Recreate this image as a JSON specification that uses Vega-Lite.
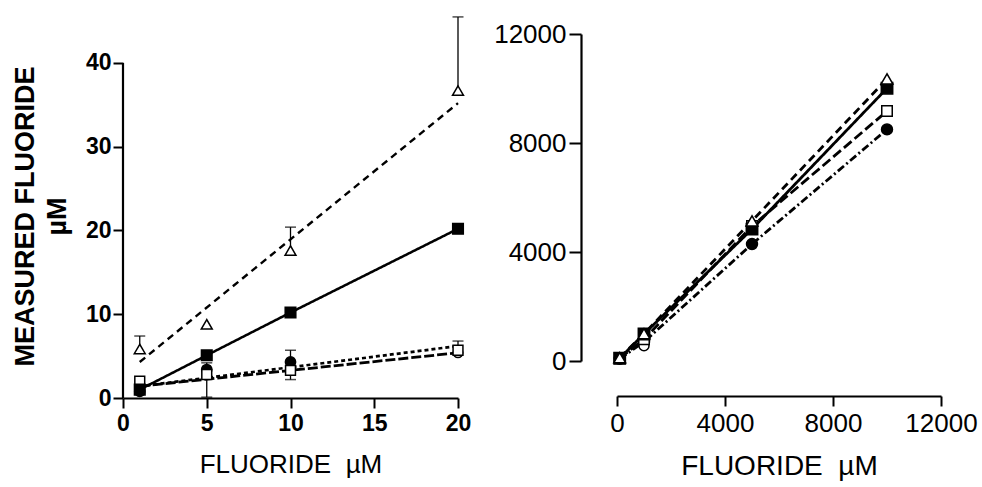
{
  "$schema": "https://vega.github.io/schema/vega-lite/v6.json",
  "background": "white",
  "padding": {"left": 11, "top": 16, "right": 5, "bottom": 5},
  "config": {
    "view": {"stroke": null},
    "font": "Liberation Sans",
    "axis": {"grid": false, "domainColor": "black", "tickColor": "black", "labelColor": "black", "titleColor": "black", "domainWidth": 2.2, "tickWidth": 2, "labelFlush": false, "format": "d"}
  },
  "datasets": {
    "lpts": [
      {"series": "T", "x": 1, "y": 5.85}, {"series": "T", "x": 5, "y": 8.8}, {"series": "T", "x": 10, "y": 17.6}, {"series": "T", "x": 20, "y": 36.7},
      {"series": "S", "x": 1, "y": 1.0}, {"series": "S", "x": 5, "y": 5.1}, {"series": "S", "x": 10, "y": 10.2}, {"series": "S", "x": 20, "y": 20.2},
      {"series": "C", "x": 1, "y": 0.8}, {"series": "C", "x": 5, "y": 3.4}, {"series": "C", "x": 10, "y": 4.3},
      {"series": "OS", "x": 1, "y": 2.0}, {"series": "OS", "x": 5, "y": 2.8}, {"series": "OS", "x": 10, "y": 3.3}, {"series": "OS", "x": 20, "y": 5.7},
      {"series": "OC", "x": 20, "y": 5.4}
    ],
    "lerr": [
      {"x": 1, "y": 5.85, "y2": 7.4}, {"x": 10, "y": 17.6, "y2": 20.4}, {"x": 20, "y": 36.7, "y2": 45.5},
      {"x": 10, "y": 4.3, "y2": 5.7}, {"x": 10, "y": 3.3, "y2": 2.2}, {"x": 5, "y": 3.4, "y2": 4.2},
      {"x": 5, "y": 2.8, "y2": 0.1}, {"x": 20, "y": 5.7, "y2": 6.8}
    ],
    "lfit": [
      {"series": "T", "x": 1, "y": 4.3}, {"series": "T", "x": 20, "y": 35.2},
      {"series": "S", "x": 1, "y": 1.0}, {"series": "S", "x": 5, "y": 5.1}, {"series": "S", "x": 10, "y": 10.2}, {"series": "S", "x": 20, "y": 20.2},
      {"series": "C", "x": 1, "y": 1.4}, {"series": "C", "x": 20, "y": 6.2},
      {"series": "OS", "x": 1, "y": 1.4}, {"series": "OS", "x": 20, "y": 5.4}
    ],
    "laxis": [{"x": 0, "y": 0, "y2": 40}],
    "rpts": [
      {"series": "C", "x": 100, "y": 80}, {"series": "C", "x": 1000, "y": 700}, {"series": "C", "x": 5000, "y": 4290}, {"series": "C", "x": 10000, "y": 8500},
      {"series": "OC", "x": 1000, "y": 560},
      {"series": "OS", "x": 100, "y": 100}, {"series": "OS", "x": 1000, "y": 800}, {"series": "OS", "x": 5000, "y": 4950}, {"series": "OS", "x": 10000, "y": 9170},
      {"series": "S", "x": 100, "y": 100}, {"series": "S", "x": 1000, "y": 990}, {"series": "S", "x": 5000, "y": 4840}, {"series": "S", "x": 10000, "y": 10010},
      {"series": "T", "x": 100, "y": 120}, {"series": "T", "x": 1000, "y": 1000}, {"series": "T", "x": 5000, "y": 5140}, {"series": "T", "x": 10000, "y": 10350}
    ]
  },
  "hconcat": [
    {
      "width": 335,
      "height": 364,
      "layer": [
        {
          "data": {"name": "laxis"},
          "mark": {"type": "rule", "color": "black", "strokeWidth": 2.2},
          "encoding": {
            "x": {"field": "x", "type": "quantitative", "scale": {"domain": [0, 20], "nice": false}, "axis": {"values": [0, 5, 10, 15, 20], "title": "FLUORIDE\u00a0\u00a0µM", "labelFontSize": 23, "labelFontWeight": "bold", "tickSize": 10, "labelPadding": 4, "titleFontSize": 26, "titleFontWeight": "normal", "titlePadding": 16}},
            "y": {"field": "y", "type": "quantitative", "scale": {"domain": [0, 43.46], "nice": false}, "axis": {"values": [0, 10, 20, 30, 40], "domain": false, "title": ["MEASURED FLUORIDE", "µM"], "labelFontSize": 23, "labelFontWeight": "bold", "tickSize": 10, "labelPadding": 2, "titleFontSize": 27, "titleFontWeight": "bold", "titlePadding": 14, "titleLineHeight": 32}},
            "y2": {"field": "y2"}
          }
        },
        {
          "data": {"name": "lfit"},
          "mark": {"type": "line", "color": "black", "clip": false},
          "encoding": {
            "x": {"field": "x", "type": "quantitative"},
            "y": {"field": "y", "type": "quantitative"},
            "detail": {"field": "series"},
            "strokeDash": {"field": "series", "type": "nominal", "scale": {"domain": ["T", "S", "C", "OS"], "range": [[7, 5], [1, 0], [4, 3], [10, 3]]}, "legend": null},
            "strokeWidth": {"field": "series", "type": "nominal", "scale": {"domain": ["T", "S", "C", "OS"], "range": [2.4, 2.8, 1.3, 1.3]}, "legend": null}
          }
        },
        {
          "data": {"name": "lerr"},
          "mark": {"type": "rule", "color": "black", "strokeWidth": 1.3, "clip": false},
          "encoding": {
            "x": {"field": "x", "type": "quantitative"},
            "y": {"field": "y", "type": "quantitative"},
            "y2": {"field": "y2"}
          }
        },
        {
          "data": {"name": "lerr"},
          "mark": {"type": "tick", "orient": "horizontal", "color": "black", "size": 11, "thickness": 1.5, "clip": false},
          "encoding": {
            "x": {"field": "x", "type": "quantitative"},
            "y": {"field": "y2", "type": "quantitative"}
          }
        },
        {
          "data": {"name": "lpts"},
          "mark": {"type": "point", "filled": true, "stroke": "black", "strokeWidth": 1.5, "opacity": 1, "clip": false},
          "encoding": {
            "x": {"field": "x", "type": "quantitative"},
            "y": {"field": "y", "type": "quantitative"},
            "shape": {"field": "series", "type": "nominal", "scale": {"domain": ["T", "S", "C", "OS", "OC"], "range": ["triangle-up", "square", "circle", "square", "circle"]}, "legend": null},
            "fill": {"field": "series", "type": "nominal", "scale": {"domain": ["T", "S", "C", "OS", "OC"], "range": ["white", "black", "black", "white", "white"]}, "legend": null},
            "size": {"field": "series", "type": "nominal", "scale": {"domain": ["T", "S", "C", "OS", "OC"], "range": [120, 90, 140, 100, 140]}, "legend": null},
            "order": {"field": "series", "sort": "ascending"}
          }
        }
      ]
    },
    {
      "width": 324,
      "height": 327,
      "layer": [
        {
          "data": {"name": "rpts"},
          "mark": {"type": "line", "color": "black"},
          "encoding": {
            "x": {"field": "x", "type": "quantitative", "scale": {"domain": [0, 12000], "nice": false}, "axis": {"values": [0, 4000, 8000, 12000], "offset": 35, "title": "FLUORIDE\u00a0\u00a0µM", "labelFontSize": 26, "tickSize": 10, "labelPadding": 4, "titleFontSize": 28, "titleFontWeight": "normal", "titlePadding": 16}},
            "y": {"field": "y", "type": "quantitative", "scale": {"domain": [0, 12000], "nice": false}, "axis": {"values": [0, 4000, 8000, 12000], "offset": 36, "title": null, "labelFontSize": 26, "tickSize": 12, "labelPadding": 3}},
            "detail": {"field": "series"},
            "strokeDash": {"field": "series", "type": "nominal", "scale": {"domain": ["T", "S", "C", "OS", "OC"], "range": [[8, 5], [1, 0], [8, 3, 2, 3], [10, 4], [1, 0]]}, "legend": null},
            "strokeWidth": {"field": "series", "type": "nominal", "scale": {"domain": ["T", "S", "C", "OS", "OC"], "range": [2.8, 2.8, 1.3, 1.3, 0]}, "legend": null}
          }
        },
        {
          "data": {"name": "rpts"},
          "mark": {"type": "point", "filled": true, "stroke": "black", "strokeWidth": 1.5, "opacity": 1, "clip": false},
          "encoding": {
            "x": {"field": "x", "type": "quantitative"},
            "y": {"field": "y", "type": "quantitative"},
            "shape": {"field": "series", "type": "nominal", "scale": {"domain": ["T", "S", "C", "OS", "OC"], "range": ["triangle-up", "square", "circle", "square", "circle"]}, "legend": null},
            "fill": {"field": "series", "type": "nominal", "scale": {"domain": ["T", "S", "C", "OS", "OC"], "range": ["white", "black", "black", "white", "white"]}, "legend": null},
            "size": {"field": "series", "type": "nominal", "scale": {"domain": ["T", "S", "C", "OS", "OC"], "range": [140, 100, 160, 100, 140]}, "legend": null}
          }
        }
      ]
    }
  ],
  "spacing": 159,
  "bounds": "flush",
  "resolve": {"scale": {"x": "independent", "y": "independent", "shape": "independent", "fill": "independent", "size": "independent", "strokeDash": "independent", "strokeWidth": "independent"}}
}
